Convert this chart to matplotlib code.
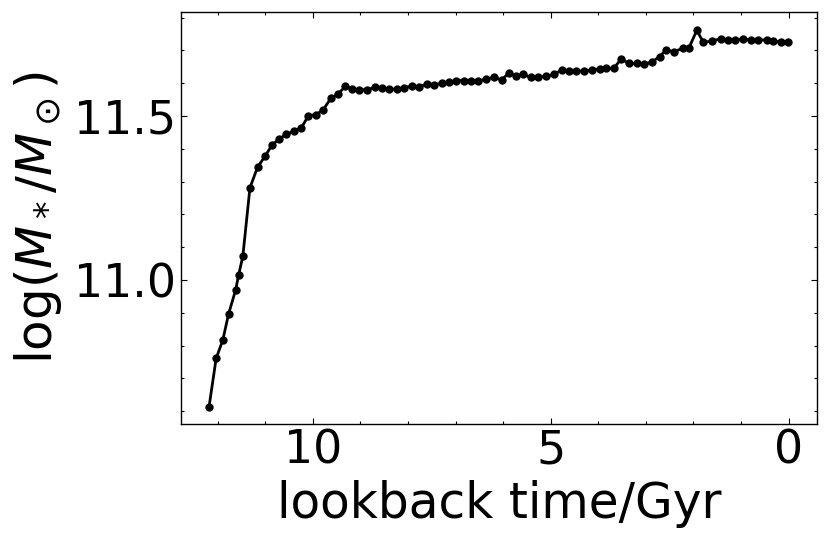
import matplotlib
matplotlib.use("Agg")
import matplotlib.pyplot as plt
from matplotlib.ticker import MultipleLocator

lookback_time = [
    12.18, 12.03, 11.89, 11.77, 11.62, 11.56, 11.47, 11.32, 11.16, 11.00,
    10.85, 10.70, 10.56, 10.40, 10.24, 10.09, 9.93, 9.78, 9.62, 9.46,
    9.32, 9.17, 9.02, 8.86, 8.70, 8.55, 8.39, 8.23, 8.08, 7.92,
    7.76, 7.60, 7.45, 7.29, 7.14, 6.98, 6.83, 6.67, 6.52, 6.36,
    6.20, 6.03, 5.88, 5.73, 5.59, 5.42, 5.27, 5.09, 4.93, 4.77,
    4.61, 4.46, 4.29, 4.13, 3.97, 3.83, 3.68, 3.52, 3.36, 3.19,
    3.04, 2.88, 2.71, 2.58, 2.41, 2.23, 2.10, 1.93, 1.79, 1.61,
    1.43, 1.28, 1.12, 0.96, 0.79, 0.65, 0.46, 0.32, 0.16, 0.01,
]
log_mstar = [
    10.613, 10.761, 10.817, 10.896, 10.970, 11.014, 11.072, 11.281, 11.344, 11.378,
    11.413, 11.430, 11.444, 11.453, 11.464, 11.501, 11.504, 11.519, 11.554, 11.568,
    11.590, 11.582, 11.580, 11.580, 11.587, 11.586, 11.582, 11.582, 11.586, 11.592,
    11.588, 11.598, 11.595, 11.600, 11.604, 11.608, 11.608, 11.606, 11.607, 11.612,
    11.618, 11.610, 11.631, 11.622, 11.627, 11.618, 11.618, 11.621, 11.627, 11.640,
    11.638, 11.636, 11.638, 11.640, 11.644, 11.645, 11.645, 11.673, 11.661, 11.660,
    11.658, 11.664, 11.681, 11.701, 11.696, 11.706, 11.706, 11.761, 11.724, 11.729,
    11.735, 11.732, 11.732, 11.735, 11.732, 11.732, 11.732, 11.729, 11.726, 11.725,
]

fig = plt.figure(figsize=(8.3, 5.45), dpi=100)
ax = fig.add_axes([0.218, 0.222, 0.766, 0.756])
ax.plot(lookback_time, log_mstar, "-o", color="black", lw=2, ms=5)

ax.set_xlim(12.77, -0.59)
ax.set_ylim(10.561, 11.817)
ax.xaxis.set_major_locator(MultipleLocator(5))
ax.xaxis.set_minor_locator(MultipleLocator(1))
ax.yaxis.set_major_locator(MultipleLocator(0.5))
ax.yaxis.set_minor_locator(MultipleLocator(0.1))
ax.tick_params(which="both", direction="in", top=True, right=True, labelsize=33, width=0.8)
ax.tick_params(which="major", length=4.5)
ax.tick_params(which="minor", length=2.5)
for s in ax.spines.values():
    s.set_linewidth(1.0)

ax.set_xlabel("lookback time/Gyr", fontsize=35)
ax.set_ylabel(r"log$(M_*/M_\odot)$", fontsize=36)
ax.xaxis.set_label_coords(0.5, -0.136)
ax.yaxis.set_label_coords(-0.184, 0.5)

fig.savefig("out.png", dpi=100)
